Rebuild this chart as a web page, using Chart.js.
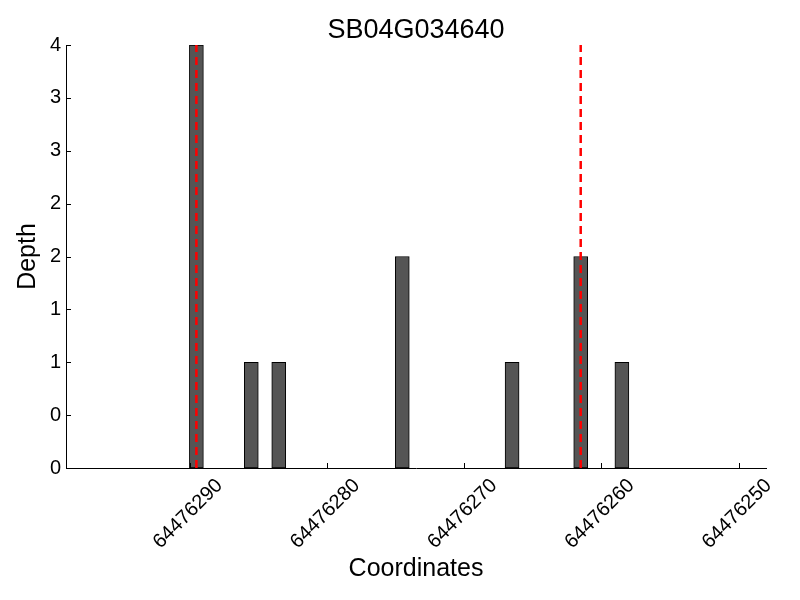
<!DOCTYPE html>
<html>
<head>
<meta charset="utf-8">
<title>SB04G034640</title>
<script src="https://cdn.jsdelivr.net/npm/chart.js@4.4.1/dist/chart.umd.min.js"></script>
<style>
  body { margin: 0; background: #fff; }
  #wrap { width: 800px; height: 600px; }
</style>
</head>
<body>
<div id="wrap"><canvas id="depthChart" width="800" height="600"></canvas></div>
<script>
// read-depth bins (bin start coordinate, 1 bp wide) and their depth
const binStarts = [64476289, 64476285, 64476283, 64476274, 64476266, 64476261, 64476258];
const depths = [4, 1, 1, 2, 1, 2, 1];
const binWidth = 1;

// gene boundaries shown as red dashed lines
const markers = [64476289.5, 64476261.5];

const xTickValues = [64476290, 64476280, 64476270, 64476260, 64476250];
const yTickValues = [0, 0.5, 1, 1.5, 2, 2.5, 3, 3.5, 4];
const yTickLabels = ["0", "0", "1", "1", "2", "2", "3", "3", "4"];

Chart.defaults.font.family = "'Liberation Sans', Arial, sans-serif";
Chart.defaults.color = "#000";

// matplotlib style ticks pointing into the plot
const innerTicks = {
  id: "innerTicks",
  afterDraw(chart) {
    const ctx = chart.ctx;
    const x = chart.scales.x;
    const y = chart.scales.y;
    ctx.save();
    ctx.strokeStyle = "#000";
    ctx.lineWidth = 1;
    ctx.beginPath();
    xTickValues.forEach((v) => {
      const px = Math.round(x.getPixelForValue(v)) + 0.5;
      ctx.moveTo(px, y.bottom);
      ctx.lineTo(px, y.bottom - 5);
    });
    yTickValues.forEach((v) => {
      const py = Math.round(y.getPixelForValue(v)) + 0.5;
      ctx.moveTo(x.left, py);
      ctx.lineTo(x.left + 5, py);
    });
    ctx.stroke();
    ctx.restore();
  },
};

const ctx = document.getElementById("depthChart").getContext("2d");

new Chart(ctx, {
  data: {
    datasets: [
      {
        type: "bar",
        data: binStarts.map((s, i) => ({ x: s + binWidth / 2, y: depths[i] })),
        backgroundColor: "#555555",
        borderColor: "#000",
        borderWidth: 1,
        borderSkipped: false,
        barThickness: 14,
        order: 2,
      },
      ...markers.map((m) => ({
        type: "line",
        data: [
          { x: m, y: 0 },
          { x: m, y: 4 },
        ],
        borderColor: "#ff0000",
        borderWidth: 2.5,
        borderDash: [8, 5],
        pointRadius: 0,
        order: 1,
      })),
    ],
  },
  options: {
    responsive: false,
    animation: false,
    layout: { padding: { right: 34, bottom: 0, left: 0, top: 0 } },
    plugins: {
      legend: { display: false },
      tooltip: { enabled: false },
      title: {
        display: true,
        fullSize: false,
        text: "SB04G034640",
        font: { size: 27, weight: "normal", lineHeight: 1 },
        color: "#000",
        padding: { top: 17, bottom: 1 },
      },
    },
    scales: {
      x: {
        type: "linear",
        reverse: true,
        min: 64476248,
        max: 64476299,
        offset: false,
        afterBuildTicks: (scale) => {
          scale.ticks = xTickValues.map((v) => ({ value: v }));
        },
        afterFit: (scale) => {
          scale.height = 132;
        },
        ticks: {
          autoSkip: false,
          minRotation: 45,
          maxRotation: 45,
          padding: 6,
          labelOffset: 30,
          font: { size: 20 },
          callback: (v) => String(v),
        },
        grid: { display: false, drawTicks: false },
        border: { display: true, color: "#000", width: 1 },
        title: {
          display: true,
          text: "Coordinates",
          font: { size: 25 },
          padding: { top: 4, bottom: 16 },
        },
      },
      y: {
        min: 0,
        max: 4,
        afterBuildTicks: (scale) => {
          scale.ticks = yTickValues.map((v) => ({ value: v }));
        },
        afterFit: (scale) => {
          scale.width = 66;
        },
        ticks: {
          padding: 5,
          font: { size: 20 },
          callback: (v) => yTickLabels[yTickValues.indexOf(v)],
        },
        grid: { display: false, drawTicks: false },
        border: { display: true, color: "#000", width: 1 },
        title: {
          display: true,
          text: "Depth",
          font: { size: 25 },
          padding: { top: 13, bottom: 0 },
        },
      },
    },
  },
  plugins: [innerTicks],
});
</script>
</body>
</html>
